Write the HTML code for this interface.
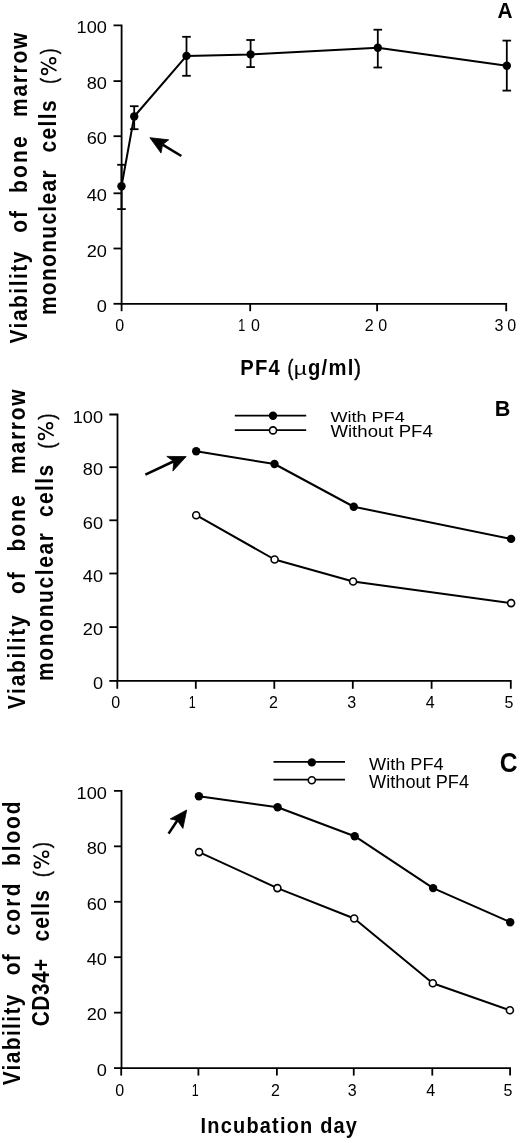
<!DOCTYPE html>
<html><head><meta charset="utf-8"><style>
html,body{margin:0;padding:0;background:#fff;}
svg{display:block;filter:grayscale(1);}
</style></head><body>
<svg width="520" height="1143" viewBox="0 0 520 1143" font-family='"Liberation Sans", sans-serif' fill="#000" stroke="#000" stroke-linecap="butt">
<rect width="520" height="1143" fill="#fff" stroke="none"/>
<g stroke="none">
</g>
<path d="M113.5,25.4 H121.6 V303.8 H506.2 V311.2" fill="none" stroke-width="1.8" stroke-linejoin="miter"/>
<line x1="113.5" y1="81.1" x2="121.6" y2="81.1" stroke-width="1.8"/>
<line x1="113.5" y1="136.2" x2="121.6" y2="136.2" stroke-width="1.8"/>
<line x1="113.5" y1="193.3" x2="121.6" y2="193.3" stroke-width="1.8"/>
<line x1="113.5" y1="248.5" x2="121.6" y2="248.5" stroke-width="1.8"/>
<line x1="113.5" y1="303.8" x2="121.6" y2="303.8" stroke-width="1.8"/>
<line x1="121.6" y1="303.8" x2="121.6" y2="311.2" stroke-width="1.8"/>
<line x1="250.2" y1="303.8" x2="250.2" y2="311.2" stroke-width="1.8"/>
<line x1="377.1" y1="303.8" x2="377.1" y2="311.2" stroke-width="1.8"/>
<polyline points="121.5,186.2 134.2,116.5 186.5,55.9 250.6,54.4 377.8,47.7 506.8,65.8" fill="none" stroke-width="2.0" stroke-linejoin="round"/>
<line x1="121.5" y1="164.8" x2="121.5" y2="209.1" stroke-width="1.8"/>
<line x1="117.2" y1="164.8" x2="125.8" y2="164.8" stroke-width="1.8"/>
<line x1="117.2" y1="209.1" x2="125.8" y2="209.1" stroke-width="1.8"/>
<circle cx="121.5" cy="186.2" r="4.2" fill="#000" stroke="none"/>
<line x1="134.2" y1="106.2" x2="134.2" y2="129.2" stroke-width="1.8"/>
<line x1="129.9" y1="106.2" x2="138.5" y2="106.2" stroke-width="1.8"/>
<line x1="129.9" y1="129.2" x2="138.5" y2="129.2" stroke-width="1.8"/>
<circle cx="134.2" cy="116.5" r="4.2" fill="#000" stroke="none"/>
<line x1="186.5" y1="36.8" x2="186.5" y2="75.8" stroke-width="1.8"/>
<line x1="182.2" y1="36.8" x2="190.8" y2="36.8" stroke-width="1.8"/>
<line x1="182.2" y1="75.8" x2="190.8" y2="75.8" stroke-width="1.8"/>
<circle cx="186.5" cy="55.9" r="4.2" fill="#000" stroke="none"/>
<line x1="250.6" y1="40" x2="250.6" y2="67.1" stroke-width="1.8"/>
<line x1="246.3" y1="40" x2="254.9" y2="40" stroke-width="1.8"/>
<line x1="246.3" y1="67.1" x2="254.9" y2="67.1" stroke-width="1.8"/>
<circle cx="250.6" cy="54.4" r="4.2" fill="#000" stroke="none"/>
<line x1="377.8" y1="29.7" x2="377.8" y2="67.5" stroke-width="1.8"/>
<line x1="373.5" y1="29.7" x2="382.1" y2="29.7" stroke-width="1.8"/>
<line x1="373.5" y1="67.5" x2="382.1" y2="67.5" stroke-width="1.8"/>
<circle cx="377.8" cy="47.7" r="4.2" fill="#000" stroke="none"/>
<line x1="506.8" y1="40.6" x2="506.8" y2="90.6" stroke-width="1.8"/>
<line x1="502.5" y1="40.6" x2="511.1" y2="40.6" stroke-width="1.8"/>
<line x1="502.5" y1="90.6" x2="511.1" y2="90.6" stroke-width="1.8"/>
<circle cx="506.8" cy="65.8" r="4.2" fill="#000" stroke="none"/>
<line x1="181.3" y1="156" x2="162.6" y2="144.6" stroke-width="2.6"/>
<polygon points="149.9,137.7 168.7,139.8 162.6,144.6 161,153.1" fill="#000" stroke="#000" stroke-width="0.8" stroke-linejoin="miter"/>
<text stroke="none" transform="translate(76.56 33.4) scale(1.0700 1)" font-size="17">100</text>
<text stroke="none" transform="translate(86.68 89.1) scale(1.0700 1)" font-size="17">80</text>
<text stroke="none" transform="translate(86.68 144.2) scale(1.0700 1)" font-size="17">60</text>
<text stroke="none" transform="translate(86.68 201.3) scale(1.0700 1)" font-size="17">40</text>
<text stroke="none" transform="translate(86.68 256.5) scale(1.0700 1)" font-size="17">20</text>
<text stroke="none" transform="translate(96.79 311.8) scale(1.0700 1)" font-size="17">0</text>
<text stroke="none" transform="translate(115.35 331) scale(1.0000 1)" font-size="16">0</text>
<text stroke="none" transform="translate(238.35 331) scale(0.7828 1)" font-size="16">1</text>
<text stroke="none" transform="translate(250.9 331) scale(1.0000 1)" font-size="16">0</text>
<text stroke="none" transform="translate(364.8 331) scale(1.0000 1)" font-size="16">2</text>
<text stroke="none" transform="translate(378.35 331) scale(1.0000 1)" font-size="16">0</text>
<text stroke="none" transform="translate(494.55 331) scale(1.0000 1)" font-size="16">3</text>
<text stroke="none" transform="translate(507.2 331) scale(1.0000 1)" font-size="16">0</text>
<text stroke="none" transform="translate(240.35 375.4) scale(0.9200 1)" font-size="22" letter-spacing="1.273" font-weight="bold">PF4</text>
<text transform="translate(287.42 375.4) scale(0.8070 1)" font-size="21.5" stroke="#000" stroke-width="0.45">(</text>
<text stroke="none" transform="translate(293.84 375.4) scale(1.2049 1)" font-size="19">µ</text>
<text stroke="none" transform="translate(307.97 375.4) scale(0.9200 1)" font-size="22" letter-spacing="1.397" font-weight="bold">g/ml</text>
<text transform="translate(354.28 375.4) scale(0.9298 1)" font-size="21.5" stroke="#000" stroke-width="0.45">)</text>
<text stroke="none" transform="translate(497.58 18.3) scale(0.9316 1)" font-size="22.4" font-weight="bold">A</text>
<text transform="translate(27.3 343.54) rotate(-90) scale(0.9000 1)" font-size="23.2" letter-spacing="1.707" font-weight="bold" stroke="none">Viability</text>
<text transform="translate(27.3 232.82) rotate(-90) scale(0.9000 1)" font-size="23.2" letter-spacing="2.297" font-weight="bold" stroke="none">of</text>
<text transform="translate(27.3 192.88) rotate(-90) scale(0.9000 1)" font-size="23.2" letter-spacing="2.487" font-weight="bold" stroke="none">bone</text>
<text transform="translate(27.3 116.88) rotate(-90) scale(0.9000 1)" font-size="23.2" letter-spacing="1.913" font-weight="bold" stroke="none">marrow</text>
<text transform="translate(55.9 315.08) rotate(-90) scale(0.9000 1)" font-size="23.2" letter-spacing="1.510" font-weight="bold" stroke="none">mononuclear</text>
<text transform="translate(55.9 152.62) rotate(-90) scale(0.9000 1)" font-size="23.2" letter-spacing="1.592" font-weight="bold" stroke="none">cells</text>
<text transform="translate(56.4 83.78) rotate(-90) scale(0.7643 1)" font-size="22.7" stroke="#000" stroke-width="0.45">(</text>
<circle cx="52.7" cy="60.8" r="2.9" fill="none" stroke-width="1.6"/>
<circle cx="44.6" cy="71.5" r="2.9" fill="none" stroke-width="1.6"/>
<line x1="40.8" y1="61.9" x2="56.5" y2="70.8" stroke-width="1.6"/>
<text transform="translate(56.4 54.3) rotate(-90) scale(0.7643 1)" font-size="22.7" stroke="#000" stroke-width="0.45">)</text>
<path d="M109.3,414.5 H117.5 V680.9 H510.8 V688.8" fill="none" stroke-width="1.8" stroke-linejoin="miter"/>
<line x1="109.3" y1="467.2" x2="117.5" y2="467.2" stroke-width="1.8"/>
<line x1="109.3" y1="520.3" x2="117.5" y2="520.3" stroke-width="1.8"/>
<line x1="109.3" y1="573.5" x2="117.5" y2="573.5" stroke-width="1.8"/>
<line x1="109.3" y1="627.1" x2="117.5" y2="627.1" stroke-width="1.8"/>
<line x1="109.3" y1="680.9" x2="117.5" y2="680.9" stroke-width="1.8"/>
<line x1="117.3" y1="680.9" x2="117.3" y2="688.8" stroke-width="1.8"/>
<line x1="195.8" y1="680.9" x2="195.8" y2="688.8" stroke-width="1.8"/>
<line x1="274.3" y1="680.9" x2="274.3" y2="688.8" stroke-width="1.8"/>
<line x1="352.8" y1="680.9" x2="352.8" y2="688.8" stroke-width="1.8"/>
<line x1="431.6" y1="680.9" x2="431.6" y2="688.8" stroke-width="1.8"/>
<polyline points="196.2,451.2 274.5,464 353.75,506.75 511.1,538.9" fill="none" stroke-width="2.0" stroke-linejoin="round"/>
<polyline points="196.2,515.2 274.6,559.5 353.1,581.5 511.1,603.1" fill="none" stroke-width="2.0" stroke-linejoin="round"/>
<circle cx="196.2" cy="451.2" r="4.2" fill="#000" stroke="none"/>
<circle cx="274.5" cy="464" r="4.2" fill="#000" stroke="none"/>
<circle cx="353.75" cy="506.75" r="4.2" fill="#000" stroke="none"/>
<circle cx="511.1" cy="538.9" r="4.2" fill="#000" stroke="none"/>
<circle cx="196.2" cy="515.2" r="3.5" fill="#fff" stroke-width="1.6"/>
<circle cx="274.6" cy="559.5" r="3.5" fill="#fff" stroke-width="1.6"/>
<circle cx="353.1" cy="581.5" r="3.5" fill="#fff" stroke-width="1.6"/>
<circle cx="511.1" cy="603.1" r="3.5" fill="#fff" stroke-width="1.6"/>
<line x1="145.4" y1="474.6" x2="173.8" y2="461.3" stroke-width="2.6"/>
<polygon points="186.2,456.6 166.8,456.4 173.8,461.3 172.9,471.1" fill="#000" stroke="#000" stroke-width="0.8" stroke-linejoin="miter"/>
<text stroke="none" transform="translate(72.66 422.7) scale(1.0700 1)" font-size="17">100</text>
<text stroke="none" transform="translate(82.78 475.4) scale(1.0700 1)" font-size="17">80</text>
<text stroke="none" transform="translate(82.78 528.5) scale(1.0700 1)" font-size="17">60</text>
<text stroke="none" transform="translate(82.78 581.7) scale(1.0700 1)" font-size="17">40</text>
<text stroke="none" transform="translate(82.78 635.3) scale(1.0700 1)" font-size="17">20</text>
<text stroke="none" transform="translate(92.89 689.1) scale(1.0700 1)" font-size="17">0</text>
<text stroke="none" transform="translate(111.2 708.4) scale(1.0000 1)" font-size="16">0</text>
<text stroke="none" transform="translate(268.9 708.4) scale(1.0000 1)" font-size="16">2</text>
<text stroke="none" transform="translate(347.15 708.4) scale(1.0000 1)" font-size="16">3</text>
<text stroke="none" transform="translate(425.8 708.4) scale(1.0000 1)" font-size="16">4</text>
<text stroke="none" transform="translate(504.62 708.4) scale(1.0000 1)" font-size="16">5</text>
<text stroke="none" transform="translate(188.85 708.4) scale(0.7828 1)" font-size="16">1</text>
<line x1="234.8" y1="415.6" x2="306.2" y2="415.6" stroke-width="1.8"/>
<circle cx="273" cy="415.8" r="4.2" fill="#000" stroke="none"/>
<line x1="234.8" y1="430.2" x2="306.2" y2="430.2" stroke-width="1.8"/>
<circle cx="273" cy="430.4" r="3.5" fill="#fff" stroke-width="1.6"/>
<text stroke="none" transform="translate(330.42 421.7) scale(1.1659 1)" font-size="15.5">With PF4</text>
<text stroke="none" transform="translate(330.42 437.2) scale(1.1283 1)" font-size="16.5">Without PF4</text>
<text stroke="none" transform="translate(494.75 415.7) scale(0.9663 1)" font-size="22.4" font-weight="bold">B</text>
<text transform="translate(24.6 709.24) rotate(-90) scale(0.9000 1)" font-size="23.2" letter-spacing="1.985" font-weight="bold" stroke="none">Viability</text>
<text transform="translate(24.6 594.02) rotate(-90) scale(0.9000 1)" font-size="23.2" letter-spacing="2.186" font-weight="bold" stroke="none">of</text>
<text transform="translate(24.6 551.48) rotate(-90) scale(0.9000 1)" font-size="23.2" letter-spacing="2.265" font-weight="bold" stroke="none">bone</text>
<text transform="translate(24.6 473.88) rotate(-90) scale(0.9000 1)" font-size="23.2" letter-spacing="2.002" font-weight="bold" stroke="none">marrow</text>
<text transform="translate(53.2 680.88) rotate(-90) scale(0.9000 1)" font-size="23.2" letter-spacing="1.866" font-weight="bold" stroke="none">mononuclear</text>
<text transform="translate(53.2 517.12) rotate(-90) scale(0.9000 1)" font-size="23.2" letter-spacing="1.620" font-weight="bold" stroke="none">cells</text>
<text transform="translate(53.5 448.85) rotate(-90) scale(0.8141 1)" font-size="22.7" stroke="#000" stroke-width="0.45">(</text>
<circle cx="49.6" cy="425.8" r="2.9" fill="none" stroke-width="1.6"/>
<circle cx="41.5" cy="436.5" r="2.9" fill="none" stroke-width="1.6"/>
<line x1="38.1" y1="426.9" x2="53.8" y2="435.8" stroke-width="1.6"/>
<text transform="translate(53.5 419.71) rotate(-90) scale(0.8308 1)" font-size="22.7" stroke="#000" stroke-width="0.45">)</text>
<path d="M114,790.9 H121.5 V1068.1 H510.1 V1075.6" fill="none" stroke-width="1.8" stroke-linejoin="miter"/>
<line x1="114" y1="846.34" x2="121.5" y2="846.34" stroke-width="1.8"/>
<line x1="114" y1="901.78" x2="121.5" y2="901.78" stroke-width="1.8"/>
<line x1="114" y1="957.22" x2="121.5" y2="957.22" stroke-width="1.8"/>
<line x1="114" y1="1012.66" x2="121.5" y2="1012.66" stroke-width="1.8"/>
<line x1="114" y1="1068.1" x2="121.5" y2="1068.1" stroke-width="1.8"/>
<line x1="121.2" y1="1068.1" x2="121.2" y2="1075.6" stroke-width="1.8"/>
<line x1="198.4" y1="1068.1" x2="198.4" y2="1075.6" stroke-width="1.8"/>
<line x1="276.9" y1="1068.1" x2="276.9" y2="1075.6" stroke-width="1.8"/>
<line x1="353.75" y1="1068.1" x2="353.75" y2="1075.6" stroke-width="1.8"/>
<line x1="432.3" y1="1068.1" x2="432.3" y2="1075.6" stroke-width="1.8"/>
<polyline points="198.9,796.2 277.6,807.3 354.7,836.2 433.1,888.1 510.2,922.2" fill="none" stroke-width="2.0" stroke-linejoin="round"/>
<polyline points="199.1,852.1 277.4,888.1 354.2,918.5 432.8,983.3 509.9,1010.3" fill="none" stroke-width="2.0" stroke-linejoin="round"/>
<circle cx="198.9" cy="796.2" r="4.2" fill="#000" stroke="none"/>
<circle cx="277.6" cy="807.3" r="4.2" fill="#000" stroke="none"/>
<circle cx="354.7" cy="836.2" r="4.2" fill="#000" stroke="none"/>
<circle cx="433.1" cy="888.1" r="4.2" fill="#000" stroke="none"/>
<circle cx="510.2" cy="922.2" r="4.2" fill="#000" stroke="none"/>
<circle cx="199.1" cy="852.1" r="3.5" fill="#fff" stroke-width="1.6"/>
<circle cx="277.4" cy="888.1" r="3.5" fill="#fff" stroke-width="1.6"/>
<circle cx="354.2" cy="918.5" r="3.5" fill="#fff" stroke-width="1.6"/>
<circle cx="432.8" cy="983.3" r="3.5" fill="#fff" stroke-width="1.6"/>
<circle cx="509.9" cy="1010.3" r="3.5" fill="#fff" stroke-width="1.6"/>
<line x1="168.6" y1="833.6" x2="177.3" y2="820.5" stroke-width="2.6"/>
<polygon points="186.7,810 170.2,818.9 177.3,820.5 182.9,828.4" fill="#000" stroke="#000" stroke-width="0.8" stroke-linejoin="miter"/>
<text stroke="none" transform="translate(76.56 798.7) scale(1.0700 1)" font-size="17">100</text>
<text stroke="none" transform="translate(86.68 854.14) scale(1.0700 1)" font-size="17">80</text>
<text stroke="none" transform="translate(86.68 909.58) scale(1.0700 1)" font-size="17">60</text>
<text stroke="none" transform="translate(86.68 965.02) scale(1.0700 1)" font-size="17">40</text>
<text stroke="none" transform="translate(86.68 1020.46) scale(1.0700 1)" font-size="17">20</text>
<text stroke="none" transform="translate(96.79 1075.9) scale(1.0700 1)" font-size="17">0</text>
<text stroke="none" transform="translate(115.35 1095.6) scale(1.0000 1)" font-size="16">0</text>
<text stroke="none" transform="translate(271.1 1095.6) scale(1.0000 1)" font-size="16">2</text>
<text stroke="none" transform="translate(347.85 1095.6) scale(1.0000 1)" font-size="16">3</text>
<text stroke="none" transform="translate(426.15 1095.6) scale(1.0000 1)" font-size="16">4</text>
<text stroke="none" transform="translate(503.47 1095.6) scale(1.0000 1)" font-size="16">5</text>
<text stroke="none" transform="translate(191.75 1095.6) scale(0.7828 1)" font-size="16">1</text>
<line x1="273.5" y1="761.8" x2="345" y2="761.8" stroke-width="1.8"/>
<circle cx="311.8" cy="762.4" r="4.2" fill="#000" stroke="none"/>
<line x1="273.5" y1="779.6" x2="345" y2="779.6" stroke-width="1.8"/>
<circle cx="311.8" cy="780.2" r="3.5" fill="#fff" stroke-width="1.6"/>
<text stroke="none" transform="translate(369.12 769.6) scale(1.0851 1)" font-size="16.7">With PF4</text>
<text stroke="none" transform="translate(369.12 787.6) scale(1.0377 1)" font-size="17.5">Without PF4</text>
<text stroke="none" transform="translate(499.79 772.4) scale(0.8955 1)" font-size="27.5" font-weight="bold">C</text>
<text stroke="none" transform="translate(200.56 1132.5) scale(0.9200 1)" font-size="21.7" letter-spacing="1.302" font-weight="bold">Incubation day</text>
<text transform="translate(20.2 1085.34) rotate(-90) scale(0.9000 1)" font-size="23.2" letter-spacing="1.540" font-weight="bold" stroke="none">Viability</text>
<text transform="translate(20.2 975.22) rotate(-90) scale(0.9000 1)" font-size="23.2" letter-spacing="1.408" font-weight="bold" stroke="none">of</text>
<text transform="translate(20.2 935.52) rotate(-90) scale(0.9000 1)" font-size="23.2" letter-spacing="2.498" font-weight="bold" stroke="none">cord</text>
<text transform="translate(20.2 866.08) rotate(-90) scale(0.9000 1)" font-size="23.2" letter-spacing="2.176" font-weight="bold" stroke="none">blood</text>
<text transform="translate(48.8 1026.16) rotate(-90) scale(0.9000 1)" font-size="23.2" letter-spacing="0.507" font-weight="bold" stroke="none">CD34+</text>
<text transform="translate(48.8 941.62) rotate(-90) scale(0.9000 1)" font-size="23.2" letter-spacing="1.398" font-weight="bold" stroke="none">cells</text>
<text transform="translate(49.1 877.35) rotate(-90) scale(0.8141 1)" font-size="22.7" stroke="#000" stroke-width="0.45">(</text>
<circle cx="45.6" cy="854.2" r="2.9" fill="none" stroke-width="1.6"/>
<circle cx="37.3" cy="865" r="2.9" fill="none" stroke-width="1.6"/>
<line x1="33.5" y1="855.4" x2="49.2" y2="864.2" stroke-width="1.6"/>
<text transform="translate(49.1 848.21) rotate(-90) scale(0.8308 1)" font-size="22.7" stroke="#000" stroke-width="0.45">)</text>
</svg>
</body></html>
